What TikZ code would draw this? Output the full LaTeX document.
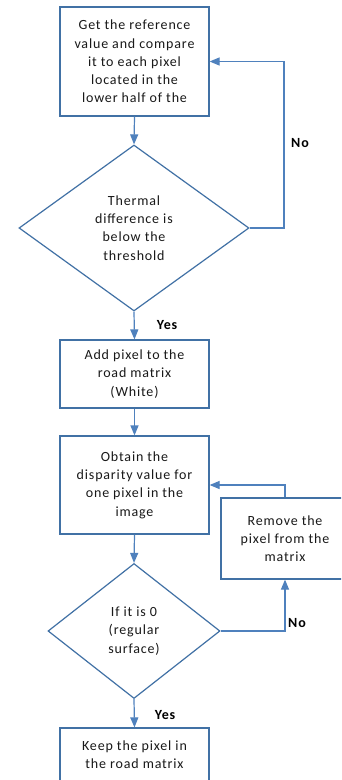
\documentclass[tikz,border=0pt]{standalone}
\usepackage{fontspec}
\setmainfont{Carlito}[LetterSpace=6]
\usetikzlibrary{arrows.meta,shapes.geometric}
\definecolor{boxline}{RGB}{65,113,165}
\definecolor{conn}{RGB}{79,129,189}
\definecolor{txt}{RGB}{25,25,25}
\tikzset{
  stepbox/.style={draw=boxline, line width=1.2bp, fill=white, rectangle, inner sep=0pt,
    text=txt, align=center, font=\fontsize{14bp}{18.3bp}\selectfont},
  decide/.style={draw=boxline, line width=1.2bp, fill=white, diamond, inner sep=0pt,
    text=txt, align=center, font=\fontsize{14bp}{18.3bp}\selectfont},
  flow/.style={draw=conn, line width=1.2bp, -{Triangle[width=8bp,length=10bp]}},
  lbl/.style={font=\bfseries\fontsize{14bp}{16bp}\selectfont, text=black, inner sep=0pt}
}
\begin{document}
\begin{tikzpicture}[x=1bp,y=-1bp]
\useasboundingbox (0,0) rectangle (341,780);
\clip (0,0) rectangle (341,780);
\fill[white] (0,0) rectangle (341,780);
\node[stepbox, minimum width=149bp, minimum height=109bp] (b1) at (134.5,61.5)
  {Get the reference\\value and compare\\it to each pixel\\located in the\\lower half of the};
\node[decide, minimum width=230bp, minimum height=166bp] (d1) at (134,228)
  {Thermal\\difference is\\below the\\threshold};
\node[stepbox, minimum width=149bp, minimum height=68bp] (b2) at (134.5,374)
  {Add pixel to the\\road matrix\\(White)};
\node[stepbox, minimum width=149bp, minimum height=98bp] (b3) at (134.5,485)
  {Obtain the\\disparity value for\\one pixel in the\\image};
\node[decide, minimum width=172bp, minimum height=135bp] (d2) at (134,631)
  {If it is 0\\(regular\\surface)};
\node[stepbox, minimum width=128bp, minimum height=81bp] (b4) at (285,538.5)
  {Remove the\\pixel from the\\matrix};
\node[stepbox, minimum width=149bp, minimum height=54bp] (b5) at (134.5,755)
  {Keep the pixel in\\the road matrix};
\coordinate (c1) at (284,228);
\draw[flow] (b1.south) -- (d1.north);
\draw[flow] (d1.east) -- (c1) |- (b1.east);
\draw[flow] (d1.south) -- (b2.north);
\draw[flow] (b2.south) -- (b3.north);
\draw[flow] (b3.south) -- (d2.north);
\draw[flow] (d2.east) -| (b4.south);
\draw[flow] (b4.north) |- (b3.east);
\draw[flow] (d2.south) -- (b5.north);
\node[lbl] (n1) at (300,143) {No};
\node[lbl] (y1) at (167,325) {Yes};
\node[lbl] (n2) at (297,623) {No};
\node[lbl] (y2) at (165,715) {Yes};
\end{tikzpicture}
\end{document}
